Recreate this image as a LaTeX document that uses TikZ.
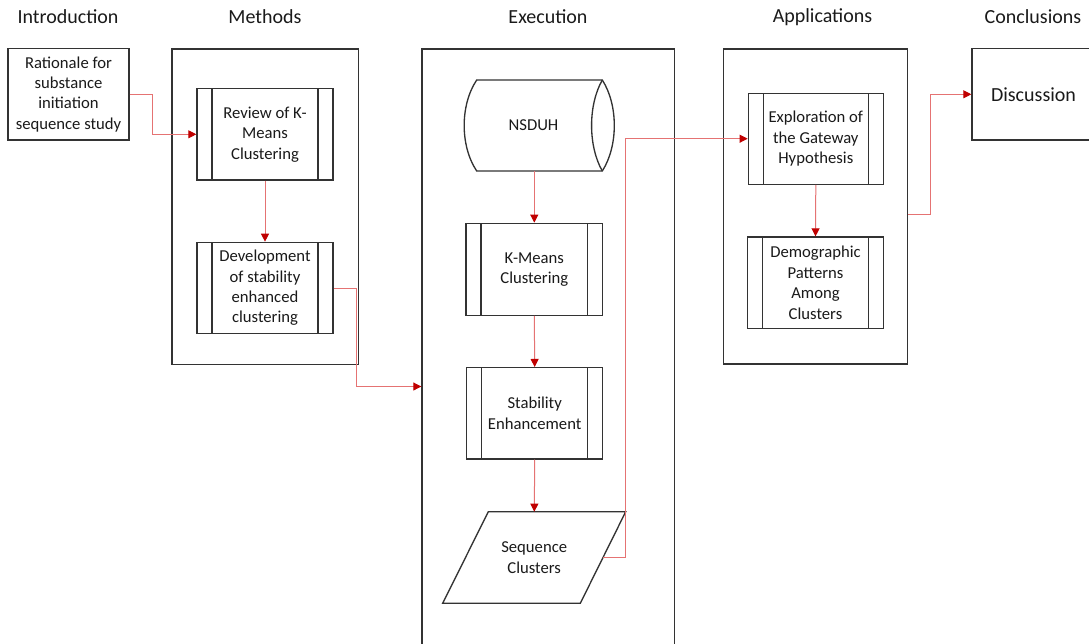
\documentclass[tikz,border=0pt]{standalone}
\usepackage{fontspec}
\setmainfont{Carlito}
\usetikzlibrary{arrows.meta,calc}
\definecolor{boxline}{HTML}{333333}
\definecolor{txt}{HTML}{1A1A1A}
\definecolor{linered}{HTML}{E57373}
\definecolor{tipred}{HTML}{C00000}
\tikzset{
  hdr/.style={font=\fontsize{15}{18}\selectfont, text=txt, inner sep=0pt},
  bx/.style={draw=boxline, line width=1pt, rectangle, align=center, text=txt,
    font=\fontsize{12.5}{15.3}\selectfont, inner sep=0pt},
  container/.style={draw=boxline, line width=1pt, rectangle, inner sep=0pt},
  procbox/.style={bx, minimum width=102pt, minimum height=68.5pt,
    path picture={
      \draw[boxline, line width=1pt]
        ([xshift=11.25pt]path picture bounding box.north west) -- ([xshift=11.25pt]path picture bounding box.south west)
        ([xshift=-11.25pt]path picture bounding box.north east) -- ([xshift=-11.25pt]path picture bounding box.south east);
    }},
  conn/.style={draw=linered, line width=0.75pt,
    -{Triangle[length=6pt,width=6pt,color=tipred,fill=tipred]}},
  shapeline/.style={draw=boxline, line width=1pt},
}
\begin{document}
\begin{tikzpicture}[x=0.75pt,y=-0.75pt]
\useasboundingbox (0,0) rectangle (1089,643);
\clip (0,0) rectangle (1089,643);
\fill[white] (0,0) rectangle (1089,643);

% headers
\node[hdr] (h1) at (68,17) {Introduction};
\node[hdr] (h2) at (265,17) {Methods};
\node[hdr] (h3) at (548,17) {Execution};
\node[hdr] (h4) at (822.5,17) {Applications};
\node[hdr] (h5) at (1033,17) {Conclusions};

% containers
\node[container, minimum width=139.9pt, minimum height=236.5pt] (meth) at (265.2,206.6) {};
\node[container, minimum width=189.2pt, minimum height=506.25pt] (exec) at (548.1,386.5) {};
\node[container, minimum width=138.3pt, minimum height=236.25pt] (apps) at (815.5,206.5) {};

% introduction
\node[bx, minimum width=90.75pt, minimum height=68.5pt] (rat) at (68.5,94.3)
  {Rationale for\\substance\\initiation\\sequence study};

% methods
\node[procbox] (rev) at (265,134.3) {Review of K-\\Means\\Clustering};
\node[procbox] (dev) at (265,288) {Development\\of stability\\enhanced\\clustering};

% execution
\draw[shapeline] (476.7,80) -- (602.3,80)
  .. controls (618.3,105) and (618.3,146) .. (602.3,171)
  -- (476.7,171)
  .. controls (460,146) and (460,105) .. (476.7,80) -- cycle;
\draw[shapeline] (602.3,80) .. controls (588,105) and (588,146) .. (602.3,171);
\node[text=txt, font=\fontsize{12.5}{15.3}\selectfont, inner sep=0pt,
  minimum width=94pt, minimum height=68.25pt] (nsduh) at (533.5,125.5) {NSDUH};

\node[procbox, minimum width=102.5pt, minimum height=69pt] (km) at (534.3,269.3) {K-Means\\Clustering};
\node[procbox, minimum width=102pt, minimum height=68.5pt] (stab) at (534.7,413.3) {Stability\\Enhancement};

\draw[shapeline] (488.3,511.7) -- (625.7,511.7) -- (580.3,603.3) -- (442.7,603.3) -- cycle;
\node[text=txt, font=\fontsize{12.5}{15.3}\selectfont, align=center, inner sep=0pt]
  (seq) at (534.2,557.5) {Sequence\\Clusters};
\coordinate (seqtop) at (534.3,511.7);
\coordinate (seqR) at (603.1,557.3);

% applications
\node[procbox, minimum width=101.25pt, minimum height=68.25pt] (expl) at (815.8,138.7)
  {Exploration of\\the Gateway\\Hypothesis};
\node[procbox, minimum width=101.7pt, minimum height=68.5pt] (demo) at (815.5,282.7)
  {Demographic\\Patterns\\Among\\Clusters};

% conclusions
\node[bx, minimum width=92.25pt, minimum height=68.5pt, font=\fontsize{15}{18}\selectfont]
  (disc) at (1033.5,94.3) {Discussion};

% connectors
\draw[conn] (rat.east) -- ++(23,0) |- (rev.west);
\draw[conn] (rev.south) -- (dev.north);
\draw[conn] (dev.east) -- ++(22.5,0) |- (exec.west);
\draw[conn] (km.north |- nsduh.south) -- (km.north);
\draw[conn] (km.south) -- (stab.north);
\draw[conn] (stab.south) -- (seqtop);
\draw[conn] (seqR) -- (625.7,557.3) |- (expl.west);
\draw[conn] (expl.south) -- (demo.north);
\draw[conn] (apps.east |- 0,214) -- (930.3,214) |- (disc.west);
\end{tikzpicture}
\end{document}
